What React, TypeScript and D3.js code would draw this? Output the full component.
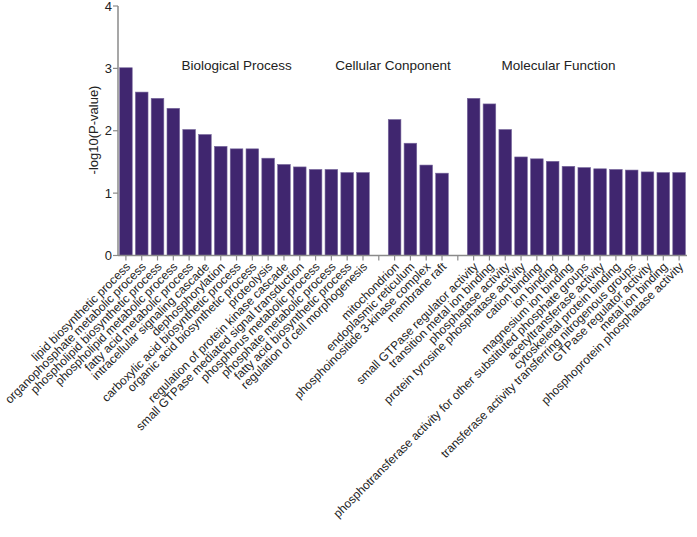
import React from "react";
import * as d3 from "d3";

const bpLabels = [
  "lipid biosynthetic process",
  "organophosphate metabolic process",
  "phospholipid biosynthetic process",
  "phospholipid metabolic process",
  "fatty acid metabolic process",
  "intracellular signaling cascade",
  "dephosphorylation",
  "carboxylic acid biosynthetic process",
  "organic acid biosynthetic process",
  "proteolysis",
  "regulation of protein kinase cascade",
  "small GTPase mediated signal transduction",
  "phosphorus metabolic process",
  "phosphate metabolic process",
  "fatty acid biosynthetic process",
  "regulation of cell morphogenesis",
];
const bpValues = [3.01, 2.62, 2.52, 2.36, 2.02, 1.94, 1.75, 1.71, 1.71, 1.56, 1.46, 1.42, 1.38, 1.38, 1.33, 1.33];

const ccLabels = [
  "mitochondrion",
  "endoplasmic reticulum",
  "phosphoinositide 3-kinase complex",
  "membrane raft",
];
const ccValues = [2.18, 1.8, 1.45, 1.32];

const mfLabels = [
  "small GTPase regulator activity",
  "transition metal ion binding",
  "phosphatase activity",
  "protein tyrosine phosphatase activity",
  "cation binding",
  "ion binding",
  "magnesium ion binding",
  "phosphotransferase activity for other substituted phosphate groups",
  "acetyltransferase activity",
  "cytoskeletal protein binding",
  "transferase activity transferring nitrogenous groups",
  "GTPase regulator activity",
  "metal ion binding",
  "phosphoprotein phosphatase activity",
];
const mfValues = [2.52, 2.43, 2.02, 1.58, 1.55, 1.51, 1.43, 1.41, 1.39, 1.38, 1.37, 1.34, 1.33, 1.33];

const groupTitles = ["Biological Process", "Cellular Conponent", "Molecular Function"];
const groupTitleAnchors = ["bp7", "cc0", "mf5"];
const groupTitleShift = [0, -0.1, 0.37];
const yTicks = [0, 1, 2, 3, 4];
const yTitle = "-log10(P-value)";

type Slot = { key: string; label: string; value: number | null };

const slots: Slot[] = [
  ...bpLabels.map((l, i) => ({ key: "bp" + i, label: l, value: bpValues[i] })),
  { key: "gap1", label: "", value: null },
  ...ccLabels.map((l, i) => ({ key: "cc" + i, label: l, value: ccValues[i] })),
  { key: "gap2", label: "", value: null },
  ...mfLabels.map((l, i) => ({ key: "mf" + i, label: l, value: mfValues[i] })),
];

const W = 697;
const H = 537;
const font = "'Liberation Sans', Arial, sans-serif";
const axisColor = "#8a8a8a";
const barColor = "#40266f";

export default function App() {
  const x = d3
    .scaleBand<string>()
    .domain(slots.map((s) => s.key))
    .range([118, 687])
    .paddingInner(0.2)
    .paddingOuter(0.1);
  const y = d3.scaleLinear().domain([0, 4]).range([255.5, 6]);
  const x0 = 118;
  const x1 = 687;
  const y0 = y(0);

  const center = (k: string) => (x(k) ?? 0) + x.bandwidth() / 2;

  return (
    <svg
      width={W}
      height={H}
      style={{ position: "absolute", left: 0, top: 0, background: "#fff" }}
      fontFamily={font}
    >
      {/* bars */}
      {slots
        .filter((s) => s.value !== null)
        .map((s) => (
          <rect
            key={s.key}
            x={x(s.key)}
            y={y(s.value as number)}
            width={x.bandwidth()}
            height={y0 - y(s.value as number)}
            fill={barColor}
            stroke="#7a6b9e"
            strokeWidth={0.6}
          />
        ))}

      {/* y axis */}
      <line x1={x0} x2={x0} y1={y(4)} y2={y0} stroke={axisColor} strokeWidth={1.5} />
      {yTicks.map((t) => (
        <g key={t}>
          <line x1={x0 - 5} x2={x0} y1={y(t)} y2={y(t)} stroke={axisColor} strokeWidth={1.2} />
          <text
            x={x0 - 6}
            y={y(t) + 4.6}
            textAnchor="end"
            fontSize={13}
            fill="#222"
          >
            {t}
          </text>
        </g>
      ))}
      <text
        transform={`translate(98,130) rotate(-90)`}
        textAnchor="middle"
        fontSize={13}
        fill="#222"
      >
        {yTitle}
      </text>

      {/* x axis */}
      <line x1={x0} x2={x1} y1={y0} y2={y0} stroke={axisColor} strokeWidth={1.5} />
      {slots.map((s) => (
        <line
          key={"t" + s.key}
          x1={center(s.key)}
          x2={center(s.key)}
          y1={y0}
          y2={y0 + 5}
          stroke={axisColor}
          strokeWidth={1.2}
        />
      ))}
      {slots
        .filter((s) => s.label)
        .map((s) => (
          <text
            key={"l" + s.key}
            transform={`translate(${center(s.key) + 5},${y0 + 12}) rotate(-45)`}
            textAnchor="end"
            fontSize={12}
            fill="#222"
          >
            {s.label}
          </text>
        ))}

      {/* group titles */}
      {groupTitles.map((g, i) => {
        const cx = center(groupTitleAnchors[i]) + groupTitleShift[i] * x.step();
        return (
          <text key={g} x={cx} y={70} textAnchor="middle" fontSize={13.5} fill="#222">
            {g}
          </text>
        );
      })}
    </svg>
  );
}
